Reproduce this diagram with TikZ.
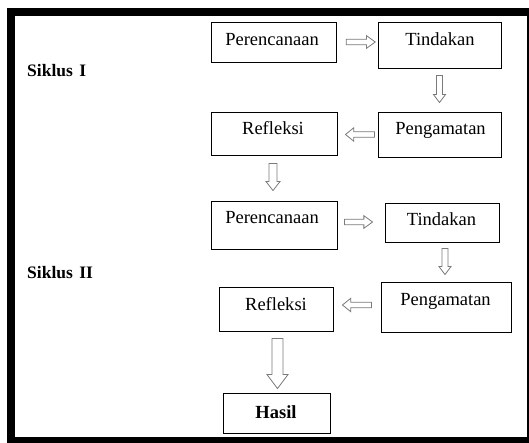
\documentclass[tikz,border=0pt]{standalone}
\usepackage{fontspec}
\setmainfont{Liberation Serif}
\usetikzlibrary{calc}
\definecolor{arrowgray}{HTML}{7A7A7A}
\tikzset{
  box/.style={draw=black, line width=0.9pt, rectangle, inner sep=0pt},
  txt/.style={anchor=base, inner sep=0pt, font=\fontsize{18.5}{20}\selectfont},
  cyc/.style={anchor=base west, inner sep=0pt, font=\fontsize{17.5}{19}\selectfont\bfseries},
  blockarrow/.style n args={5}{draw=arrowgray, fill=white, line width=0.8pt, line join=miter,
    to path={
      ($(\tikztostart)!#4!(\tikztotarget)$) coordinate (bas)
      ($(\tikztotarget)!#5!(\tikztostart)$) coordinate (bae)
      ($(bae)!#3!(bas)$) coordinate (bah)
      ($(bas)!#1!90:(bae)$) -- ($(bah)!#1!90:(bae)$) -- ($(bah)!#2!90:(bae)$) -- (bae)
      -- ($(bah)!#2!-90:(bae)$) -- ($(bah)!#1!-90:(bae)$) -- ($(bas)!#1!-90:(bae)$) -- cycle
    }}
}
\newcommand{\mybox}[5]{% name, x1, y1, x2, y2
  \node[box, minimum width={(#4-#2)*1pt}, minimum height={(#5-#3)*1pt}] (#1) at ({(#2+#4)/2},{(#3+#5)/2}) {};}
\begin{document}
\begin{tikzpicture}[x=1pt, y=-1pt]
\useasboundingbox (0,0) rectangle (529,443);
\clip (0,0) rectangle (529,443);
\fill[white] (0,0) rectangle (529,443);
% outer frame
\draw[line width=8pt] (11,12) rectangle (531,441);

% boxes
\mybox{P1}{211}{22}{336}{62}
\mybox{T1}{378}{22}{501}{68}
\mybox{R1}{211}{112}{337}{155}
\mybox{G1}{378}{112}{501}{157}
\mybox{P2}{211}{201}{337}{249}
\mybox{T2}{385}{203}{499}{242}
\mybox{R2}{219}{287}{333}{331}
\mybox{G2}{381}{282}{511}{332}
\mybox{H}{223}{393}{330}{433}

% texts
\node[txt] (tP1) at (272,46) {Perencanaan};
\node[txt] (tT1) at (440,46) {Tindakan};
\node[txt] (tR1) at (273,135) {Refleksi};
\node[txt] (tG1) at (440.5,135) {Pengamatan};
\node[txt] (tP2) at (272,224) {Perencanaan};
\node[txt] (tT2) at (441.5,226) {Tindakan};
\node[txt] (tR2) at (276,310.5) {Refleksi};
\node[txt] (tG2) at (445.5,305) {Pengamatan};
\node[txt, font=\fontsize{18.5}{20}\selectfont\bfseries] (tH) at (276,418) {Hasil};

\node[cyc] (s1) at (27,77) {Siklus\hspace{6.5pt}I};
\node[cyc] (s2) at (27,278) {Siklus\hspace{6.5pt}II};

% arrows
\draw[blockarrow={2.8pt}{6.3pt}{8.7pt}{9.7pt}{2.3pt}] (P1.east) to (P1.east -| T1.west);
\draw[blockarrow={3pt}{6pt}{8pt}{7pt}{9pt}] (T1.south) to (T1.south |- G1.north);
\draw[blockarrow={2.7pt}{6.7pt}{8.3pt}{3pt}{8pt}] (G1.west) to (G1.west -| R1.east);
\draw[blockarrow={4pt}{7pt}{9pt}{8pt}{10pt}] ([xshift=-1pt]R1.south) to ([xshift=-1pt]R1.south |- P2.north);
\draw[blockarrow={2.8pt}{6.3pt}{8.7pt}{7pt}{12pt}] ([yshift=3pt]P2.east) to ([yshift=3pt]P2.east -| T2.west);
\draw[blockarrow={3pt}{6pt}{8pt}{6pt}{7pt}] ([xshift=3pt]T2.south) to ([xshift=3pt]T2.south |- G2.north);
\draw[blockarrow={2.7pt}{6.7pt}{8.3pt}{9pt}{9pt}] ([yshift=2pt]G2.west) to ([yshift=2pt]G2.west -| R2.east);
\draw[blockarrow={5.5pt}{10.5pt}{14pt}{7pt}{4pt}] ([xshift=1.5pt]R2.south) to ([xshift=1.5pt]R2.south |- H.north);
\end{tikzpicture}
\end{document}
